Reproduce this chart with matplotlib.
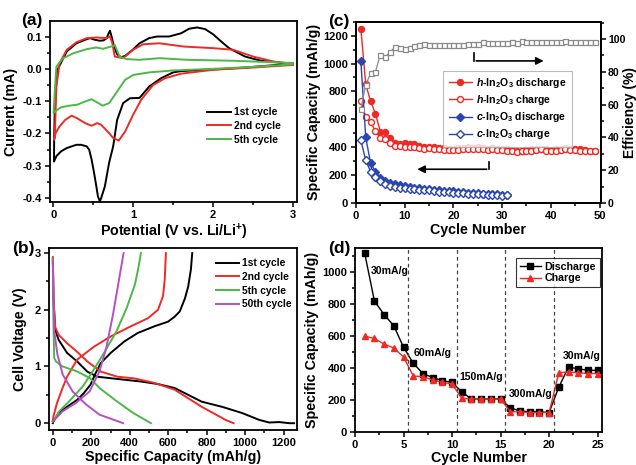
import numpy as np
import matplotlib
matplotlib.use("Agg")
import matplotlib.pyplot as plt
from matplotlib.ticker import MultipleLocator

plt.rcParams['font.family'] = ['Liberation Sans', 'DejaVu Sans']
plt.rcParams['font.weight'] = 'bold'
plt.rcParams['axes.labelweight'] = 'bold'
plt.rcParams['mathtext.fontset'] = 'custom'
plt.rcParams['mathtext.rm'] = 'Liberation Sans:bold'
plt.rcParams['mathtext.it'] = 'Liberation Sans:bold:italic'
plt.rcParams['mathtext.bf'] = 'Liberation Sans:bold'

# ---------------- (a) cyclic voltammetry ----------------
cv1_v = [3.0, 2.8, 2.6, 2.4, 2.2, 2.0, 1.8, 1.6, 1.5, 1.35, 1.2, 1.08, 0.96, 0.875, 0.8, 0.75, 0.7,
         0.646, 0.6, 0.584, 0.56, 0.54, 0.51, 0.48, 0.45, 0.42, 0.35, 0.29, 0.17, 0.1, 0.04, 0.01,
         0.012, 0.02, 0.04, 0.06, 0.1, 0.17, 0.29, 0.4, 0.46, 0.52, 0.58, 0.63, 0.67, 0.69, 0.71,
         0.73, 0.76, 0.8, 0.85, 0.9, 1.0, 1.08, 1.2, 1.3, 1.45, 1.6, 1.7, 1.8, 1.9, 2.0, 2.1, 2.2,
         2.4, 2.6, 2.8, 3.0]
cv1_i = [0.016, 0.012, 0.008, 0.004, 0.001, -0.002, -0.004, -0.007, -0.011, -0.029, -0.055, -0.09,
         -0.091, -0.106, -0.158, -0.24, -0.29, -0.364, -0.40, -0.41, -0.395, -0.364, -0.32, -0.28,
         -0.25, -0.24, -0.235, -0.235, -0.245, -0.255, -0.27, -0.287,
         -0.22, -0.12, -0.04, 0.0, 0.02, 0.054, 0.079, 0.09, 0.095, 0.09, 0.087, 0.088, 0.095,
         0.108, 0.118, 0.1, 0.07, 0.045, 0.036, 0.04, 0.06, 0.079, 0.095, 0.1, 0.1, 0.11, 0.124,
         0.128, 0.123, 0.107, 0.085, 0.064, 0.038, 0.025, 0.02, 0.016]

cv2_v = [3.0, 2.5, 2.0, 1.6, 1.4, 1.25, 1.1, 1.0, 0.9, 0.82, 0.75, 0.7, 0.6, 0.55, 0.48, 0.4, 0.3,
         0.23, 0.15, 0.08, 0.03, 0.01,
         0.02, 0.04, 0.08, 0.17, 0.29, 0.42, 0.54, 0.67, 0.71, 0.74, 0.77, 0.875, 1.0, 1.125,
         1.33, 1.63, 2.0, 2.25, 2.5, 2.75, 3.0]
cv2_i = [0.012, 0.004, -0.003, -0.015, -0.029, -0.05, -0.096, -0.142, -0.194, -0.222, -0.214,
         -0.199, -0.173, -0.168, -0.176, -0.168, -0.153, -0.145, -0.158, -0.178, -0.199, -0.22,
         -0.21, -0.055, 0.018, 0.059, 0.082, 0.095, 0.097, 0.095, 0.1, 0.08, 0.038, 0.033, 0.059,
         0.076, 0.079, 0.069, 0.064, 0.059, 0.038, 0.023, 0.014]

cv5_v = [3.0, 2.5, 2.0, 1.5, 1.2, 1.0, 0.9, 0.8, 0.7, 0.62, 0.55, 0.48, 0.4, 0.3, 0.2, 0.1,
         0.02, 0.005,
         0.02, 0.04, 0.125, 0.25, 0.42, 0.54, 0.625, 0.75, 0.77, 0.83, 0.92, 1.08, 1.33, 1.67,
         2.25, 3.0]
cv5_i = [0.014, 0.006, 0.0, -0.005, -0.011, -0.019, -0.034, -0.07, -0.106, -0.114, -0.104,
         -0.094, -0.101, -0.111, -0.114, -0.119, -0.132, -0.137,
         -0.07, 0.007, 0.033, 0.048, 0.061, 0.066, 0.062, 0.071, 0.074, 0.038, 0.03, 0.028,
         0.033, 0.028, 0.025, 0.018]

# ---------------- (b) galvanostatic profiles ----------------
dis1_c = [0, 3, 12, 30, 74, 126, 179, 231, 336, 459, 547, 634, 704, 774, 879, 984, 1072, 1125,
          1177, 1230, 1255]
dis1_v = [2.9, 2.2, 1.65, 1.47, 1.24, 1.09, 0.91, 0.82, 0.78, 0.735, 0.69, 0.62, 0.5, 0.38,
          0.29, 0.18, 0.06, 0.012, 0.02, 0.0, 0.0]
chg1_c = [0, 3, 30, 74, 126, 161, 196, 222, 249, 301, 371, 441, 529, 599, 634, 660, 687, 704,
          718, 725]
chg1_v = [0.0, 0.03, 0.18, 0.29, 0.41, 0.53, 0.68, 0.88, 1.06, 1.24, 1.44, 1.59, 1.71, 1.79,
          1.88, 1.97, 2.2, 2.41, 2.71, 3.0]

dis2_c = [0, 3, 12, 30, 74, 126, 179, 249, 336, 424, 529, 634, 704, 774, 844, 897, 940]
dis2_v = [2.93, 2.24, 1.7, 1.56, 1.41, 1.26, 1.09, 0.91, 0.82, 0.79, 0.71, 0.59, 0.44, 0.29,
          0.16, 0.06, 0.0]
chg2_c = [0, 3, 21, 47, 74, 126, 214, 301, 406, 494, 547, 573, 582, 588]
chg2_v = [0.05, 0.12, 0.35, 0.59, 0.82, 1.12, 1.35, 1.53, 1.71, 1.85, 2.0, 2.24, 2.53, 3.0]

dis5_c = [0, 3, 7, 16, 51, 121, 191, 243, 331, 418, 510]
dis5_v = [2.9, 1.8, 1.15, 1.09, 1.0, 0.92, 0.8, 0.62, 0.39, 0.18, 0.0]
chg5_c = [0, 33, 86, 156, 208, 261, 331, 384, 427, 445, 458]
chg5_v = [0.03, 0.21, 0.39, 0.65, 0.92, 1.21, 1.62, 2.03, 2.45, 2.74, 3.0]

dis50_c = [0, 7, 24, 51, 103, 173, 243, 366]
dis50_v = [2.86, 1.62, 1.21, 0.86, 0.56, 0.33, 0.15, 0.0]
chg50_c = [0, 51, 121, 191, 243, 278, 313, 340, 368]
chg50_v = [0.03, 0.21, 0.36, 0.56, 0.92, 1.33, 1.92, 2.45, 3.0]

# ---------------- (c) cycling of h- and c-In2O3 ----------------
h_dis = [1250, 850, 730, 640, 510, 510, 465, 430, 420, 430, 425, 420, 410, 405, 405, 400, 395,
         395, 390, 385, 395, 395, 400, 395, 400, 395, 390, 395, 390, 385, 385, 380, 370, 375,
         380, 385, 390, 390, 385, 380, 385, 385, 395, 390, 390, 385, 380, 375, 375]
h_chg = [730, 620, 580, 515, 465, 460, 430, 410, 410, 405, 405, 400, 395, 390, 395, 390, 385,
         380, 380, 380, 380, 385, 385, 390, 385, 385, 380, 385, 380, 380, 375, 375, 365, 370,
         370, 375, 380, 385, 375, 375, 375, 380, 385, 380, 380, 375, 375, 370, 370]
c_dis = [1015, 470, 285, 225, 180, 160, 145, 135, 128, 122, 115, 110, 105, 102, 98, 95, 90, 88,
         88, 85, 80, 78, 75, 72, 70, 68, 66, 64, 62, 60, 60]
c_chg = [450, 305, 225, 185, 155, 135, 125, 115, 110, 105, 100, 98, 95, 92, 90, 85, 80, 78, 80,
         75, 72, 70, 68, 65, 62, 62, 60, 58, 55, 52, 55]
eff = [57.5, 72, 79, 80, 90.5, 89, 92, 95, 94.5, 94, 94.5, 95.5, 96, 97, 96, 96.5, 96.5, 96.5,
       96.5, 96.5, 96.5, 96.5, 97, 97, 97, 98, 97.5, 97.5, 97.5, 97.5, 97.5, 98, 97.5, 98.5, 98,
       98, 98, 98, 98, 98, 98, 98, 98.5, 98, 98, 98, 98, 98, 98]

# ---------------- (d) rate capability ----------------
rate_cycles = list(range(1, 26))
rate_dis = [1120, 820, 735, 665, 530, 430, 365, 340, 320, 310, 250, 205, 205, 205, 205, 150,
            130, 125, 125, 120, 280, 405, 395, 385, 385]
rate_chg = [600, 585, 550, 525, 470, 350, 345, 325, 310, 300, 210, 205, 205, 205, 205, 125,
            125, 120, 120, 120, 370, 375, 370, 365, 365]
rate_bounds = [5.5, 10.5, 15.5, 20.5]
rate_labels = ['30mA/g', '60mA/g', '150mA/g', '300mA/g', '30mA/g']
rate_label_xy = [(1.65, 1010), (6.0, 494), (10.8, 342), (15.8, 237), (21.4, 473)]

RED = '#ee2a24'
GREEN = '#4cb848'
PURPLE = '#b44fc4'
BLUE = '#2a45b0'
GREY = '#8a8a8a'

fig = plt.figure(figsize=(6.36, 4.65), dpi=100)
W, H = 636, 465

TICK_FS = 8
LBL = dict(fontsize=10.3, fontweight='bold')
LEG_FS = 7.4
TAG_FS = 12.5


def px_axes(l, t, r, b):
    return fig.add_axes([l / W, 1 - b / H, (r - l) / W, (b - t) / H])


def style(ax, right=False):
    for s in ax.spines.values():
        s.set_linewidth(1.3)
    ax.tick_params(which='both', direction='out', labelsize=TICK_FS, width=1.1,
                   top=False, right=right, pad=2.5)
    ax.tick_params(which='major', length=3.5)
    ax.tick_params(which='minor', length=2)
    for lab in ax.get_xticklabels() + ax.get_yticklabels():
        lab.set_fontweight('bold')


def tag(ax, x, s):
    ax.text(x, 1.0, s, transform=ax.transAxes, ha='center', va='center',
            fontsize=TAG_FS, fontweight='bold')


# (a)
axa = px_axes(50, 21, 297, 202)
axa.plot(cv1_v, cv1_i, color='black', lw=1.4, label='1st cycle')
axa.plot(cv2_v, cv2_i, color=RED, lw=1.4, label='2nd cycle')
axa.plot(cv5_v, cv5_i, color=GREEN, lw=1.4, label='5th cycle')
axa.set_xlim(-0.04, 3.05)
axa.set_ylim(-0.412, 0.148)
axa.xaxis.set_major_locator(MultipleLocator(1))
axa.xaxis.set_minor_locator(MultipleLocator(0.5))
axa.yaxis.set_minor_locator(MultipleLocator(0.05))
axa.set_yticks([-0.4, -0.3, -0.2, -0.1, 0.0, 0.1])
axa.set_yticklabels(['-0.4', '-0.3', '-0.2', '-0.1', '0.0', '0.1'])
axa.set_xlabel(r'Potential (V vs. Li/Li$^{+}$)', labelpad=1, **LBL)
axa.set_ylabel('Current (mA)', labelpad=3, **LBL)
axa.legend(loc='upper left', bbox_to_anchor=(0.62, 0.545), frameon=False, fontsize=LEG_FS,
           handlelength=2.3, handletextpad=0.3, labelspacing=0.35, borderaxespad=0)
style(axa)
tag(axa, -0.073, '(a)')

# (b)
axb = px_axes(49, 248, 297, 430)
axb.plot(dis1_c, dis1_v, color='black', lw=1.4, label='1st cycle')
axb.plot(chg1_c, chg1_v, color='black', lw=1.4)
axb.plot(dis2_c, dis2_v, color=RED, lw=1.4, label='2nd cycle')
axb.plot(chg2_c, chg2_v, color=RED, lw=1.4)
axb.plot(dis5_c, dis5_v, color=GREEN, lw=1.4, label='5th cycle')
axb.plot(chg5_c, chg5_v, color=GREEN, lw=1.4)
axb.plot(dis50_c, dis50_v, color=PURPLE, lw=1.4, label='50th cycle')
axb.plot(chg50_c, chg50_v, color=PURPLE, lw=1.4)
axb.set_xlim(-20, 1270)
axb.set_ylim(-0.12, 3.09)
axb.xaxis.set_major_locator(MultipleLocator(200))
axb.xaxis.set_minor_locator(MultipleLocator(100))
axb.yaxis.set_major_locator(MultipleLocator(1))
axb.yaxis.set_minor_locator(MultipleLocator(0.5))
axb.set_xlabel('Specific Capacity (mAh/g)', labelpad=1, **LBL)
axb.set_ylabel('Cell Voltage (V)', labelpad=5, **LBL)
axb.legend(loc='upper left', bbox_to_anchor=(0.655, 0.965), frameon=False, fontsize=LEG_FS,
           handlelength=2.3, handletextpad=0.3, labelspacing=0.35, borderaxespad=0)
style(axb)
tag(axb, -0.105, '(b)')

# (c)
axc = px_axes(356, 21.7, 601, 203)
cyc_h = np.arange(1, len(h_dis) + 1)
cyc_c = np.arange(1, len(c_dis) + 1)
ms = 4.3
l1, = axc.plot(cyc_h, h_dis, '-o', color=RED, lw=1.0, ms=ms, mfc=RED, mec=RED)
l2, = axc.plot(cyc_h, h_chg, '-o', color=RED, lw=1.0, ms=ms, mfc='white', mec=RED, mew=1.0)
l3, = axc.plot(cyc_c, c_dis, '-D', color=BLUE, lw=1.0, ms=ms - 0.5, mfc=BLUE, mec=BLUE)
l4, = axc.plot(cyc_c, c_chg, '-D', color=BLUE, lw=1.0, ms=ms - 0.5, mfc='white', mec=BLUE,
               mew=1.0)
axc.set_xlim(0, 50.3)
axc.set_ylim(0, 1300)
axc.xaxis.set_major_locator(MultipleLocator(10))
axc.xaxis.set_minor_locator(MultipleLocator(5))
axc.yaxis.set_major_locator(MultipleLocator(200))
axc.yaxis.set_minor_locator(MultipleLocator(100))
axc.set_xlabel('Cycle Number', labelpad=1, **LBL)
axc.set_ylabel('Specific Capacity (mAh/g)', labelpad=1, **LBL)
style(axc)
# arrow toward the capacity axis
axc.plot([27.3, 27.3], [294, 242], color='black', lw=1.2)
axc.annotate('', xy=(12.0, 242), xytext=(27.4, 242),
             arrowprops=dict(arrowstyle='-|>', color='black', lw=1.2, mutation_scale=11))

axc2 = axc.twinx()
axc2.plot(cyc_h, eff, '-s', color=GREY, lw=0.9, ms=3.6, mfc='white', mec=GREY, mew=0.9)
axc2.set_ylim(0, 110.5)
axc2.yaxis.set_major_locator(MultipleLocator(20))
axc2.yaxis.set_minor_locator(MultipleLocator(10))
style(axc2, right=True)
axc2.tick_params(axis='y', which='both', left=False, pad=1.5, labelsize=7.6)
axc2.set_ylabel('Efficiency (%)', fontsize=10, fontweight='bold', rotation=90,
                va='center', ha='center')
axc2.yaxis.set_label_coords(1.118, 0.5)
# arrow toward the efficiency axis
axc2.plot([24.2, 24.2], [91.6, 86.6], color='black', lw=1.2)
axc2.annotate('', xy=(39.1, 86.6), xytext=(24.1, 86.6),
              arrowprops=dict(arrowstyle='-|>', color='black', lw=1.2, mutation_scale=11))
leg = axc2.legend([l1, l2, l3, l4],
                  [r'$\mathit{h}$-In$_2$O$_3$ discharge', r'$\mathit{h}$-In$_2$O$_3$ charge',
                   r'$\mathit{c}$-In$_2$O$_3$ discharge', r'$\mathit{c}$-In$_2$O$_3$ charge'],
                  loc='upper left', bbox_to_anchor=(0.357, 0.73), fontsize=LEG_FS + 0.2,
                  fancybox=False, handlelength=2.2, handletextpad=0.4, labelspacing=0.3,
                  borderaxespad=0, borderpad=0.5)
leg.get_frame().set_edgecolor('#aaaaaa')
leg.get_frame().set_linewidth(0.8)
tag(axc, -0.071, '(c)')

# (d)
axd = px_axes(355, 248, 602, 431.7)
axd.plot(rate_cycles, rate_dis, '-s', color='black', lw=1.0, ms=4.3, mfc='black',
         label='Discharge')
axd.plot(rate_cycles, rate_chg, '-^', color=RED, lw=1.0, ms=4.5, mfc=RED, mec=RED,
         label='Charge')
for xb in rate_bounds:
    axd.axvline(xb, color='#444444', lw=0.9, ls=(0, (3, 2.5)))
for txt, (tx, ty) in zip(rate_labels, rate_label_xy):
    axd.text(tx, ty, txt, ha='left', va='center', fontsize=7.6, fontweight='bold')
axd.set_xlim(0, 25.45)
axd.set_ylim(0, 1153)
axd.xaxis.set_major_locator(MultipleLocator(5))
axd.xaxis.set_minor_locator(MultipleLocator(2.5))
axd.yaxis.set_major_locator(MultipleLocator(200))
axd.yaxis.set_minor_locator(MultipleLocator(100))
axd.set_xlabel('Cycle Number', labelpad=1, **LBL)
axd.set_ylabel('Specific Capacity (mAh/g)', labelpad=2, **LBL)
legd = axd.legend(loc='upper right', bbox_to_anchor=(0.99, 0.945), fontsize=LEG_FS + 0.3,
                  fancybox=False, handlelength=2.0, handletextpad=0.3, labelspacing=0.15,
                  borderaxespad=0, borderpad=0.35)
legd.get_frame().set_edgecolor('black')
legd.get_frame().set_linewidth(0.8)
style(axd)
tag(axd, -0.063, '(d)')

fig.savefig('out.png', dpi=100)
